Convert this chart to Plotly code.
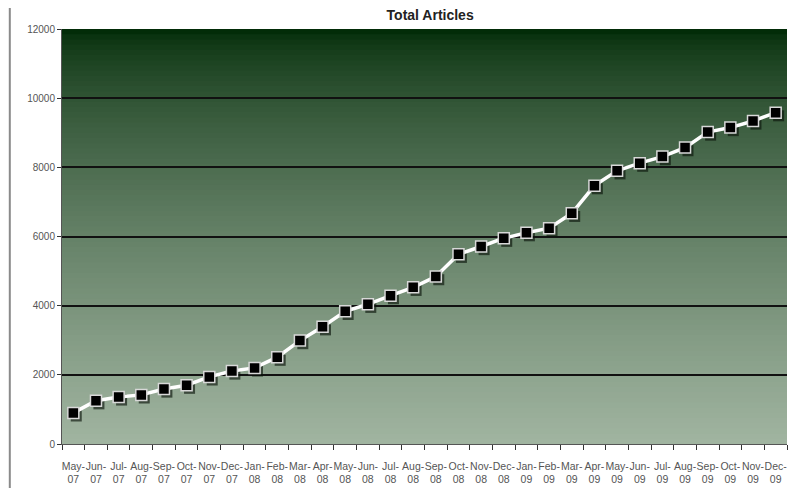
import plotly.graph_objects as go

months = ["May", "Jun", "Jul", "Aug", "Sep", "Oct", "Nov", "Dec",
          "Jan", "Feb", "Mar", "Apr", "May", "Jun", "Jul", "Aug", "Sep", "Oct", "Nov", "Dec",
          "Jan", "Feb", "Mar", "Apr", "May", "Jun", "Jul", "Aug", "Sep", "Oct", "Nov", "Dec"]
years = ["07"] * 8 + ["08"] * 12 + ["09"] * 12
categories = [f"{m}-<br>{y}" for m, y in zip(months, years)]
articles = [900, 1250, 1360, 1420, 1590, 1700, 1940, 2110,
            2200, 2510, 2990, 3390, 3835, 4040, 4290, 4530, 4840, 5485, 5710, 5950,
            6110, 6240, 6670, 7470, 7900, 8120, 8310, 8570, 9020, 9150, 9340, 9580]
y_ticks = [0, 2000, 4000, 6000, 8000, 10000, 12000]

fig = go.Figure()

# gradient background as overlapping strips
top = (2, 44, 8)
bot = (160, 180, 160)
n = 80
shapes = []
for i in range(n):
    t = i / (n - 1)
    c = tuple(int(round(top[k] + (bot[k] - top[k]) * (t ** 0.68))) for k in range(3))
    y1 = 1 - i / n
    y0 = max(0, 1 - (i + 1) / n - 0.006)
    shapes.append(dict(type="rect", xref="x domain", yref="y domain",
                       x0=0, x1=1, y0=y0, y1=y1,
                       fillcolor=f"rgb{c}", line=dict(width=0), layer="below"))
# left page edge line (from the screenshot's surrounding page)
shapes.append(dict(type="line", xref="paper", yref="paper", x0=-0.072, x1=-0.072,
                   y0=-0.11, y1=1.08, line=dict(color="#8a8a8a", width=2)))

# base axes: carries ticks and grid (invisible trace to set categories)
fig.add_trace(go.Scatter(x=categories, y=articles, mode="none", hoverinfo="skip",
                         showlegend=False))
# marker shadow on a slightly shifted overlay axis
fig.add_trace(go.Scatter(
    x=categories, y=articles, mode="markers", xaxis="x2", yaxis="y2",
    marker=dict(symbol="square", size=11, color="rgba(10,20,10,0.65)", line=dict(width=0)),
    hoverinfo="skip", showlegend=False,
))
# main series
fig.add_trace(go.Scatter(
    x=categories, y=articles, mode="lines+markers", xaxis="x3", yaxis="y3",
    line=dict(color="white", width=3.5),
    marker=dict(symbol="square", size=11, color="black",
                line=dict(color="#d8d8d8", width=1.5)),
    hoverinfo="x+y", showlegend=False,
))

ncat = len(categories)
shift_x = 0.13
shift_y = 90
fig.update_layout(
    width=798, height=488,
    paper_bgcolor="white", plot_bgcolor="rgba(0,0,0,0)",
    margin=dict(l=54, r=19, t=21, b=52),
    title=dict(text="<b>Total Articles</b>", x=0.529, xanchor="center", y=0.996, yanchor="top",
               pad=dict(t=0),
               font=dict(family="Liberation Sans Narrow, Arial Narrow, Liberation Sans, Arial", size=14, color="#222")),
    shapes=shapes,
    font=dict(family="Liberation Sans, Arial", size=10, color="#444"),
    xaxis2=dict(type="category", overlaying="x", range=[-0.5 - shift_x, ncat - 0.5 - shift_x],
                visible=False, categoryorder="array", categoryarray=categories),
    yaxis2=dict(overlaying="y", range=[shift_y, 12000 + shift_y], visible=False),
    xaxis3=dict(type="category", overlaying="x", range=[-0.5, ncat - 0.5],
                visible=False, categoryorder="array", categoryarray=categories),
    yaxis3=dict(overlaying="y", range=[0, 12000], visible=False),
)
fig.layout.xaxis.update(type="category", tickangle=0, showgrid=False, range=[-0.5, ncat - 0.5],
                        ticks="outside", ticklen=5, tickcolor="#333", showline=True, linecolor="#555",
                        tickfont=dict(size=10.5, color="#555"), tickson="boundaries",
                        ticklabelstandoff=12)
fig.layout.yaxis.update(
    range=[0, 12000], tickvals=y_ticks, tickformat="d", showgrid=True, gridcolor="#111", gridwidth=1.5,
    ticks="outside", ticklen=4, tickcolor="#333", showline=True, linecolor="#555",
    tickfont=dict(size=10, color="#555"), zeroline=False,
)

fig.write_html("out.html")
